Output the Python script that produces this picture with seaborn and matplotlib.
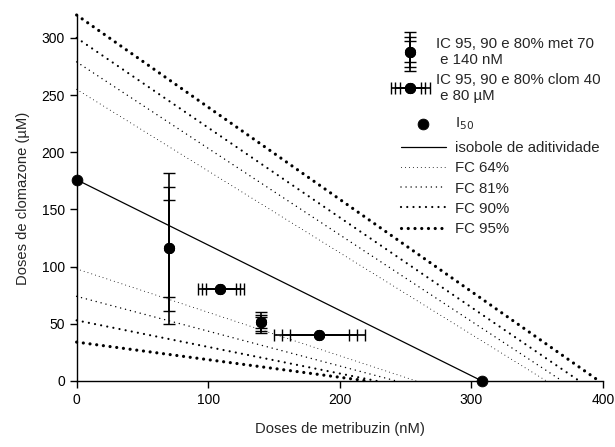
import numpy as np
import pandas as pd
import matplotlib
matplotlib.use("Agg")
import matplotlib.pyplot as plt
import seaborn as sns
from matplotlib.legend_handler import HandlerBase, HandlerErrorbar

# I50 points (metribuzin nM, clomazone uM)
i50_x = [0, 308]
i50_y = [176, 0]

# metribuzin fixed at 70 and 140 nM: clomazone IC 95, 90, 80% intervals
met_x = [70, 140]
met_y = [116, 52]
met_lo = {"95": [50, 42], "90": [61, 44], "80": [73, 46]}
met_hi = {"95": [182, 60], "90": [170, 58], "80": [158, 56]}

# clomazone fixed at 40 and 80 uM: metribuzin IC 95, 90, 80% intervals
clom_y = [80, 40]
clom_x = [109, 184]
clom_lo = {"95": [92, 150], "90": [95, 156], "80": [98, 162]}
clom_hi = {"95": [127, 219], "90": [124, 213], "80": [121, 207]}

# additivity isobole
iso_x = [0, 308]
iso_y = [176, 0]

# FC isoboles: (y intercept, x intercept) of the lower and upper lines
fc_names = ["FC 64%", "FC 81%", "FC 90%", "FC 95%"]
fc_low_y = [98, 74, 53, 34]
fc_low_x = [258, 243, 228, 221]
fc_up_y = [255, 279, 300, 320]
fc_up_x = [357, 369, 382, 397]

sns.set_theme(style="ticks")
plt.rcParams["font.family"] = ["Liberation Sans", "DejaVu Sans"]
plt.rcParams["font.size"] = 10

fig, ax = plt.subplots(figsize=(6.15, 4.47), dpi=100)
fig.subplots_adjust(left=0.1246, right=0.9805, bottom=0.1477, top=0.9664)

# dotted styles: (linewidth, gap)
fc_styles = [(0.75, 3.8), (1.1, 3.3), (1.6, 2.8), (2.3, 2.1)]

for name, ly, lx, uy, ux, (lw, gap) in zip(fc_names, fc_low_y, fc_low_x, fc_up_y, fc_up_x, fc_styles):
    ls = (0, (0.01, gap))
    sns.lineplot(x=[0, lx], y=[ly, 0], ax=ax, color="black", lw=lw, linestyle=ls,
                 dash_capstyle="round", sort=False, clip_on=False)
    sns.lineplot(x=[0, ux], y=[uy, 0], ax=ax, color="black", lw=lw, linestyle=ls,
                 dash_capstyle="round", sort=False, clip_on=False, label=name)

sns.lineplot(x=iso_x, y=iso_y, ax=ax, color="black", lw=0.9, sort=False,
             label="isobole de aditividade")

# error bars, one call per interval level
met_conts = []
for lev in ["95", "90", "80"]:
    yerr = [np.subtract(met_y, met_lo[lev]), np.subtract(met_hi[lev], met_y)]
    c = ax.errorbar(met_x, met_y, yerr=yerr, fmt="o", color="black", ms=7,
                    capsize=4, elinewidth=1.2, capthick=1.0)
    met_conts.append(c)

clom_conts = []
for lev in ["95", "90", "80"]:
    xerr = [np.subtract(clom_x, clom_lo[lev]), np.subtract(clom_hi[lev], clom_x)]
    c = ax.errorbar(clom_x, clom_y, xerr=xerr, fmt="o", color="black", ms=7,
                    capsize=4, elinewidth=1.2, capthick=1.0)
    clom_conts.append(c)

sns.scatterplot(x=i50_x, y=i50_y, ax=ax, color="black", s=60, edgecolor="black",
                clip_on=False, zorder=5, label="I$_{50}$")


class MultiErr:
    def __init__(self, conts, sizes):
        self.conts = conts
        self.sizes = sizes


class HandlerMultiErr(HandlerBase):
    def create_artists(self, legend, orig_handle, xdescent, ydescent, width, height, fontsize, trans):
        artists = []
        for cont, s in zip(orig_handle.conts, orig_handle.sizes):
            h = HandlerErrorbar(xerr_size=s, yerr_size=s)
            artists += h.create_artists(legend, cont, xdescent, ydescent, width, height, fontsize, trans)
        return artists


met_handle = MultiErr(met_conts, [1.3, 1.0, 0.7])
clom_handle = MultiErr(clom_conts, [1.3, 1.0, 0.7])

leg_kw = dict(loc="upper left", frameon=False, borderpad=0, borderaxespad=0, fontsize=10.8)

leg1 = ax.legend([met_handle, clom_handle],
                 ["IC 95, 90 e 80% met 70\n e 140 nM", "IC 95, 90 e 80% clom 40\n e 80 µM"],
                 handler_map={MultiErr: HandlerMultiErr()}, bbox_to_anchor=(0.60, 0.941),
                 handlelength=2.4, handletextpad=0.5, labelspacing=0.4, **leg_kw)
ax.add_artist(leg1)

handles, labels = ax.get_legend_handles_labels()
lab_map = dict(zip(labels, handles))

leg2 = ax.legend([lab_map["I$_{50}$"]], ["I$_{50}$"], bbox_to_anchor=(0.6155, 0.725),
                 handlelength=3.0, handletextpad=0.6, **leg_kw)
ax.add_artist(leg2)

order = ["isobole de aditividade"] + fc_names
ax.legend([lab_map[k] for k in order], order, bbox_to_anchor=(0.6155, 0.655),
          handlelength=3.0, handletextpad=0.6, labelspacing=0.41, **leg_kw)

ax.set_xlim(0, 400)
ax.set_ylim(0, 320)
ax.set_xticks([0, 100, 200, 300, 400])
ax.set_yticks([0, 50, 100, 150, 200, 250, 300])
ax.tick_params(direction="out", length=5, width=1, labelsize=10, colors="black")
sns.despine(ax=ax)
for sp in ["left", "bottom"]:
    ax.spines[sp].set_color("black")
    ax.spines[sp].set_linewidth(1.0)
ax.set_xlabel("Doses de metribuzin (nM)", fontsize=10.6, labelpad=11)
ax.set_ylabel("Doses de clomazone (µM)", fontsize=10.6, labelpad=8)

fig.savefig("out.png", dpi=100)
